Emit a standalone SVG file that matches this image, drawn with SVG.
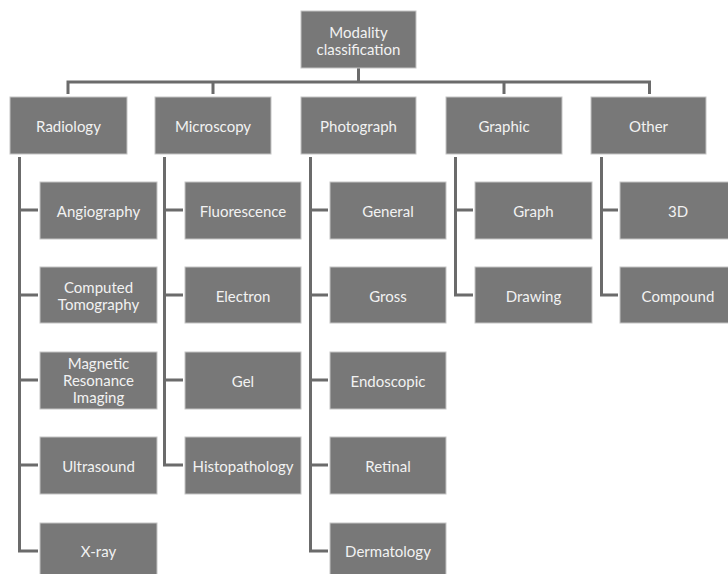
<svg xmlns="http://www.w3.org/2000/svg" width="728" height="574" viewBox="0 0 728 574">
<style>
.b{fill:#787878;stroke:#c4c4c4;stroke-width:1}
.t{fill:#f2f2f2;font-family:Lato,"Liberation Sans",sans-serif;font-size:15px;text-anchor:middle;dominant-baseline:central}
.c{fill:none;stroke:#6b6b6b;stroke-width:3;stroke-linejoin:miter}
</style>
<rect width="728" height="574" fill="#ffffff"/>
<g id="connectors">
<path class="c" d="M358.5 68V82M68 94V82H649.5V94M213 82V94M504 82V94"/>
<path class="c" d="M19.5 157V551H38M19.5 210H38M19.5 295H38M19.5 380H38M19.5 465H38"/>
<path class="c" d="M164.5 157V465H183M164.5 210H183M164.5 295H183M164.5 380H183"/>
<path class="c" d="M310.5 157V551H328M310.5 210H328M310.5 295H328M310.5 380H328M310.5 465H328"/>
<path class="c" d="M455.5 157V295H473M455.5 210H473"/>
<path class="c" d="M601.5 157V295H618M601.5 210H618"/>
</g>
<g id="root"><rect class="b" x="301" y="11" width="115" height="57"/><text class="t" x="358.5" y="32">Modality</text><text class="t" x="358.5" y="49">classification</text></g>
<g id="radiology"><rect class="b" x="10" y="97" width="117" height="57"/><text class="t" x="68.5" y="125.5">Radiology</text></g>
<g id="microscopy"><rect class="b" x="155" y="97" width="116" height="57"/><text class="t" x="213" y="125.5">Microscopy</text></g>
<g id="photograph"><rect class="b" x="301" y="97" width="115" height="57"/><text class="t" x="358.5" y="125.5">Photograph</text></g>
<g id="graphic"><rect class="b" x="446" y="97" width="116" height="57"/><text class="t" x="504" y="125.5">Graphic</text></g>
<g id="other"><rect class="b" x="591" y="97" width="115" height="57"/><text class="t" x="648.5" y="125.5">Other</text></g>

<g id="angiography"><rect class="b" x="40" y="182" width="117" height="57"/><text class="t" x="98.5" y="210.5">Angiography</text></g>
<g id="ct"><rect class="b" x="40" y="267" width="117" height="56"/><text class="t" x="98.5" y="287">Computed</text><text class="t" x="98.5" y="304">Tomography</text></g>
<g id="mri"><rect class="b" x="40" y="352" width="117" height="57"/><text class="t" x="98.5" y="363">Magnetic</text><text class="t" x="98.5" y="380">Resonance</text><text class="t" x="98.5" y="397">Imaging</text></g>
<g id="ultrasound"><rect class="b" x="40" y="437" width="117" height="57"/><text class="t" x="98.5" y="465.5">Ultrasound</text></g>
<g id="xray"><rect class="b" x="40" y="523" width="117" height="57"/><text class="t" x="98.5" y="551">X-ray</text></g>

<g id="fluorescence"><rect class="b" x="185" y="182" width="116" height="57"/><text class="t" x="243" y="210.5">Fluorescence</text></g>
<g id="electron"><rect class="b" x="185" y="267" width="116" height="56"/><text class="t" x="243" y="295.5">Electron</text></g>
<g id="gel"><rect class="b" x="185" y="352" width="116" height="57"/><text class="t" x="243" y="380.5">Gel</text></g>
<g id="histopathology"><rect class="b" x="185" y="437" width="116" height="57"/><text class="t" x="243" y="465.5">Histopathology</text></g>

<g id="general"><rect class="b" x="330" y="182" width="116" height="57"/><text class="t" x="388" y="210.5">General</text></g>
<g id="gross"><rect class="b" x="330" y="267" width="116" height="56"/><text class="t" x="388" y="295.5">Gross</text></g>
<g id="endoscopic"><rect class="b" x="330" y="352" width="116" height="57"/><text class="t" x="388" y="380.5">Endoscopic</text></g>
<g id="retinal"><rect class="b" x="330" y="437" width="116" height="57"/><text class="t" x="388" y="465.5">Retinal</text></g>
<g id="dermatology"><rect class="b" x="330" y="523" width="116" height="57"/><text class="t" x="388" y="551">Dermatology</text></g>

<g id="graph"><rect class="b" x="475" y="182" width="117" height="57"/><text class="t" x="533.5" y="210.5">Graph</text></g>
<g id="drawing"><rect class="b" x="475" y="267" width="117" height="56"/><text class="t" x="533.5" y="295.5">Drawing</text></g>

<g id="threed"><rect class="b" x="620" y="182" width="116" height="57"/><text class="t" x="678" y="210.5">3D</text></g>
<g id="compound"><rect class="b" x="620" y="267" width="116" height="56"/><text class="t" x="678" y="295.5">Compound</text></g>
</svg>
